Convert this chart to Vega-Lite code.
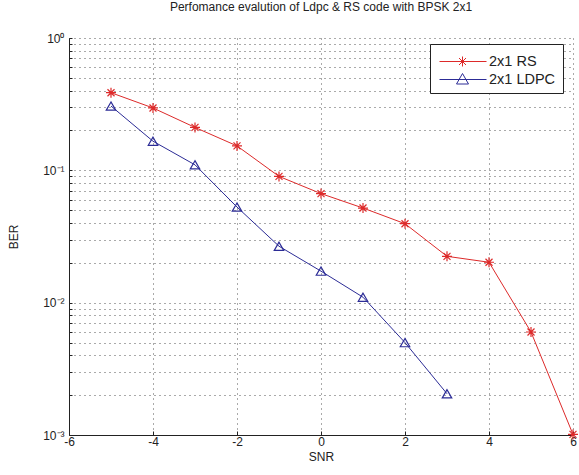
{
  "$schema": "https://vega.github.io/schema/vega-lite/v6.json",
  "autosize": "none",
  "width": 504,
  "height": 397,
  "padding": {"left": 69, "top": 38, "right": 6, "bottom": 40},
  "background": "white",
  "config": {
    "font": "Liberation Sans",
    "view": {"stroke": null},
    "axis": {"labelFont": "Liberation Sans", "titleFont": "Liberation Sans", "labelColor": "#222", "titleColor": "#222", "labelFontSize": 12, "titleFontSize": 12, "titleFontWeight": "normal", "domainColor": "#222", "gridColor": "#444", "gridDash": [1, 4], "gridOpacity": 0.9, "ticks": true, "tickColor": "#222", "tickSize": -4}
  },
  "title": {"text": "Perfomance evalution of Ldpc & RS code with BPSK 2x1", "fontSize": 12, "fontWeight": "normal", "font": "Liberation Sans", "color": "#222", "anchor": "middle", "offset": 18},
  "data": {"values": [
    {"series": "2x1 RS", "snr": -5, "ber": 0.386},
    {"series": "2x1 RS", "snr": -4, "ber": 0.296},
    {"series": "2x1 RS", "snr": -3, "ber": 0.211},
    {"series": "2x1 RS", "snr": -2, "ber": 0.153},
    {"series": "2x1 RS", "snr": -1, "ber": 0.090},
    {"series": "2x1 RS", "snr": 0, "ber": 0.0667},
    {"series": "2x1 RS", "snr": 1, "ber": 0.0519},
    {"series": "2x1 RS", "snr": 2, "ber": 0.0395},
    {"series": "2x1 RS", "snr": 3, "ber": 0.0224},
    {"series": "2x1 RS", "snr": 4, "ber": 0.0202},
    {"series": "2x1 RS", "snr": 5, "ber": 0.0060},
    {"series": "2x1 RS", "snr": 6, "ber": 0.00101},
    {"series": "2x1 LDPC", "snr": -5, "ber": 0.306},
    {"series": "2x1 LDPC", "snr": -4, "ber": 0.166},
    {"series": "2x1 LDPC", "snr": -3, "ber": 0.110},
    {"series": "2x1 LDPC", "snr": -2, "ber": 0.0528},
    {"series": "2x1 LDPC", "snr": -1, "ber": 0.0267},
    {"series": "2x1 LDPC", "snr": 0, "ber": 0.0173},
    {"series": "2x1 LDPC", "snr": 1, "ber": 0.0110},
    {"series": "2x1 LDPC", "snr": 2, "ber": 0.00499},
    {"series": "2x1 LDPC", "snr": 3, "ber": 0.00205}
  ]},
  "encoding": {
    "x": {"field": "snr", "type": "quantitative", "title": "SNR",
      "scale": {"domain": [-6, 6], "nice": false},
      "axis": {"values": [-6, -4, -2, 0, 2, 4, 6], "labelExpr": "replace(datum.label, '−', '-')", "labelPadding": 5, "titlePadding": 4, "labelFlush": false}},
    "y": {"field": "ber", "type": "quantitative", "title": "BER",
      "scale": {"type": "log", "domain": [0.001, 1], "nice": false},
      "axis": {"values": [0.001,0.002,0.003,0.004,0.005,0.006,0.007,0.008,0.009,0.01,0.02,0.03,0.04,0.05,0.06,0.07,0.08,0.09,0.1,0.2,0.3,0.4,0.5,0.6,0.7,0.8,0.9,1],
        "labelExpr": "datum.value==1?'10⁰':datum.value==0.1?'10⁻¹':datum.value==0.01?'10⁻²':datum.value==0.001?'10⁻³':''",
        "tickSize": -3,
        "labelOverlap": false, "labelFlush": false, "labelPadding": 8, "titlePadding": 22}},
    "color": {"field": "series", "type": "nominal", "sort": ["2x1 RS", "2x1 LDPC"],
      "scale": {"domain": ["2x1 RS", "2x1 LDPC"], "range": ["#dd2a2a", "#2c2c96"]},
      "legend": {"title": null, "orient": "none", "legendX": 361, "legendY": 6,
        "padding": 7, "strokeColor": "#222", "fillColor": "white",
        "labelFontSize": 14.5, "labelFont": "Liberation Sans", "labelColor": "#222", "labelOffset": 31, "rowPadding": 0,
        "symbolSize": 400, "symbolStrokeWidth": 1,
        "encode": {"symbols": {"update": {
          "shape": {"signal": "datum.value == '2x1 RS' ? 'M-0.8,0L3.9,0M1.5,-0.5L1.5,0.5M1.0,0L2.0,0M1.15,-0.35L1.85,0.35M1.15,0.35L1.85,-0.35' : 'M-0.8,0L3.9,0M1.5,-0.6L2.1,0.45L0.9,0.45Z'"},
          "fill": {"value": "transparent"},
          "size": {"value": 400},
          "strokeWidth": {"value": 1}
        }}}}}
  },
  "layer": [
    {"mark": {"type": "line", "strokeWidth": 1}},
    {"transform": [{"filter": "datum.series == '2x1 RS'"}],
     "mark": {"type": "point", "filled": false, "strokeWidth": 1.2, "opacity": 1, "size": 100, "shape": "M0,-1L0,1M-1,0L1,0M-0.7,-0.7L0.7,0.7M-0.7,0.7L0.7,-0.7"}},
    {"transform": [{"filter": "datum.series == '2x1 LDPC'"}],
     "mark": {"type": "point", "filled": false, "strokeWidth": 1.2, "opacity": 1, "size": 90, "shape": "triangle-up"}}
  ]
}
